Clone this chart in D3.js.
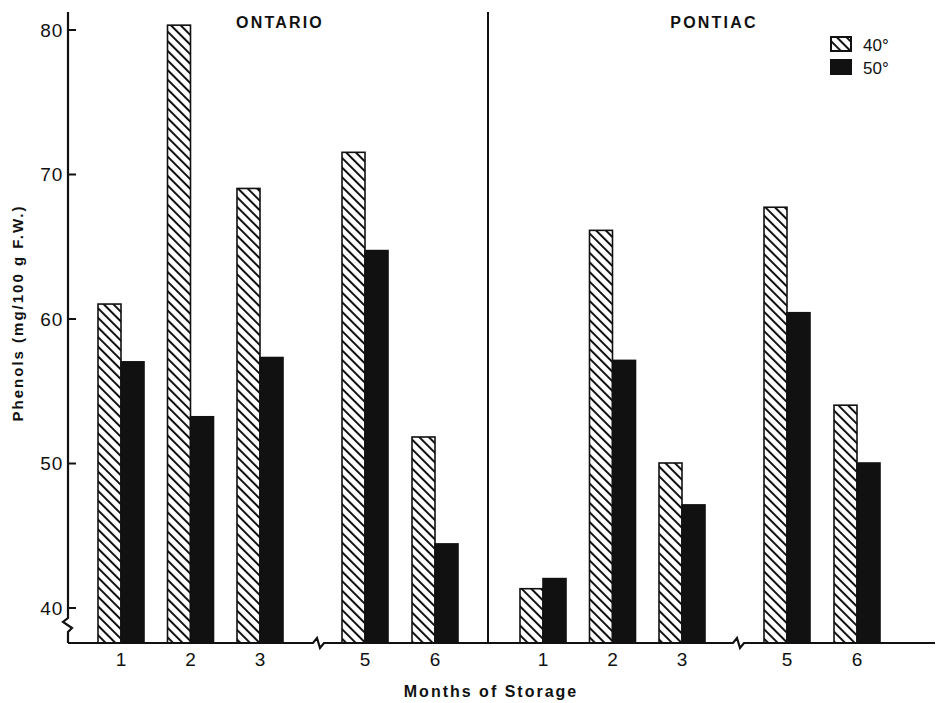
<!DOCTYPE html>
<meta charset="utf-8">
<style>
body{margin:0;background:#fff;}
text{font-family:"Liberation Sans",Arial,sans-serif;fill:#111;}
.title{font-size:16px;font-weight:bold;letter-spacing:2.2px;}
.axlabel{font-size:15px;font-weight:bold;letter-spacing:2px;}
.legend text{font-size:17px;}
</style>
<body>
<script src="https://d3js.org/d3.v7.min.js"></script>
<script>

// data
var cultivars = ["ONTARIO", "PONTIAC"];
var months = [1, 2, 3, 5, 6];
var temps = ["40°", "50°"];
var ontario40 = [61.0, 80.3, 69.0, 71.5, 51.8];
var ontario50 = [57.0, 53.2, 57.3, 64.7, 44.4];
var pontiac40 = [41.3, 66.1, 50.0, 67.7, 54.0];
var pontiac50 = [42.0, 57.1, 47.1, 60.4, 50.0];
var yTicks = [40, 50, 60, 70, 80];

var series = {
  ONTARIO: [ontario40, ontario50],
  PONTIAC: [pontiac40, pontiac50]
};

var W = 940, H = 703;
var svg = d3.select("body").append("svg").attr("width", W).attr("height", H);

var defs = svg.append("defs");
var pat = defs.append("pattern").attr("id", "hatch")
    .attr("patternUnits", "userSpaceOnUse")
    .attr("width", 6.8).attr("height", 20)
    .attr("patternTransform", "rotate(-45)");
pat.append("rect").attr("width", 6.8).attr("height", 20).attr("fill", "#fff");
pat.append("line").attr("x1", 1).attr("x2", 1).attr("y1", 0).attr("y2", 20)
    .attr("stroke", "#111").attr("stroke-width", 2);

var x0 = 68, x1 = 935, yBase = 643;
var y = d3.scaleLinear().domain([40, 80]).range([607.5, 29.5]);

// panels
var panel = d3.scaleOrdinal().domain(cultivars).range([0, 422]);
// month position inside a panel; month 4 omitted (axis break)
var mx = d3.scaleLinear().domain([1, 3, 5, 6]).range([121, 260, 365, 435]);
var bw = 23;
var tx = d3.scaleBand().domain(temps).range([-bw, bw]);

var g = svg.append("g");

cultivars.forEach(function(c){
  var pg = g.append("g").attr("transform", "translate(" + panel(c) + ",0)");
  temps.forEach(function(t, ti){
    pg.selectAll(".bar" + ti).data(series[c][ti]).enter().append("rect")
      .attr("x", (d, i) => mx(months[i]) + tx(t))
      .attr("width", tx.bandwidth())
      .attr("y", d => y(d))
      .attr("height", d => yBase - y(d))
      .attr("fill", ti == 0 ? "url(#hatch)" : "#111")
      .attr("stroke", "#111")
      .attr("stroke-width", 1.6);
  });
  pg.selectAll(".mlab").data(months).enter().append("text")
    .attr("x", d => mx(d))
    .attr("y", 666)
    .attr("text-anchor", "middle")
    .style("font-size", "19px")
    .text(d => d);
  pg.append("text").attr("class", "title")
    .attr("x", c == "ONTARIO" ? 280 : 292)
    .attr("y", 28)
    .attr("text-anchor", "middle")
    .text(c);
});

// y axis
var yAxis = d3.axisRight(y).tickValues(yTicks).tickSize(8).tickFormat(d3.format("d"));
var ya = svg.append("g").attr("transform", "translate(" + x0 + ",0)").call(yAxis);
ya.select(".domain").remove();
ya.selectAll(".tick line").attr("stroke", "#111").attr("stroke-width", 2);
ya.selectAll(".tick text").attr("x", -5).attr("text-anchor", "end")
  .attr("dy", "0.35em").attr("fill", "#111")
  .style("font-family", "'Liberation Sans',Arial,sans-serif")
  .style("font-size", "19px").style("letter-spacing", "0.8px");

var ln = d3.line();
// y axis line with break
svg.append("path").attr("fill", "none").attr("stroke", "#111").attr("stroke-width", 2.2)
  .attr("d", ln([[x0, 12], [x0, 618], [x0 - 5, 622], [x0 + 4, 628], [x0, 632], [x0, yBase]]));

// x axis with breaks
var brk = [317, 737];
svg.append("path").attr("fill", "none").attr("stroke", "#111").attr("stroke-width", 2.2)
  .attr("d", ln([[x0, yBase], [brk[0] - 4, yBase], [brk[0], yBase - 5], [brk[0] + 3, yBase + 5], [brk[0] + 7, yBase],
                 [brk[1] - 4, yBase], [brk[1], yBase - 5], [brk[1] + 3, yBase + 5], [brk[1] + 7, yBase], [x1, yBase]]));

// divider between cultivars
svg.append("line").attr("x1", 488).attr("x2", 488).attr("y1", 12).attr("y2", yBase)
  .attr("stroke", "#111").attr("stroke-width", 2);

// axis titles
svg.append("text").attr("class", "axlabel")
  .attr("transform", "translate(23,313) rotate(-90)")
  .attr("text-anchor", "middle")
  .text("Phenols  (mg/100 g F.W.)");
svg.append("text").attr("class", "axlabel")
  .attr("x", 491).attr("y", 697)
  .attr("text-anchor", "middle")
  .style("font-size", "16px")
  .text("Months of Storage");

// legend
var lg = svg.append("g").attr("class", "legend");
var ly = d3.scaleBand().domain(temps).range([36, 82]);
lg.selectAll("rect").data(temps).enter().append("rect")
  .attr("x", 831).attr("y", d => ly(d) + 1)
  .attr("width", 20).attr("height", 14)
  .attr("fill", (d, i) => i == 0 ? "url(#hatch)" : "#111")
  .attr("stroke", "#111").attr("stroke-width", 2);
lg.selectAll("text").data(temps).enter().append("text")
  .attr("x", 863).attr("y", d => ly(d) + 15)
  .text(d => d);
</script>
</body>
